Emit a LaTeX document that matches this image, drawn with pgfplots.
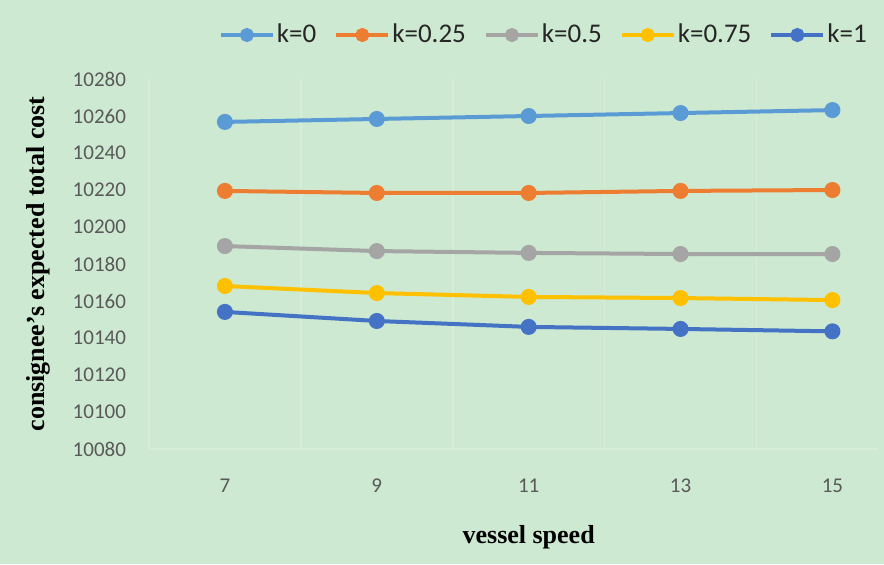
\documentclass[border=0pt]{standalone}
\usepackage{fontspec}
\setmainfont{Liberation Serif}
\newfontfamily\calibri{Carlito}
\usepackage{pgfplots}
\pgfplotsset{compat=1.18}
\definecolor{bg}{RGB}{205,233,209}
\definecolor{gridc}{RGB}{214,237,217}
\definecolor{tickgray}{RGB}{89,89,89}
\definecolor{c0}{HTML}{5B9BD5}
\definecolor{c1}{HTML}{ED7D31}
\definecolor{c2}{HTML}{A5A5A5}
\definecolor{c3}{HTML}{FFC000}
\definecolor{c4}{HTML}{4472C4}
\begin{document}
\begin{tikzpicture}
\fill[bg] (0,0) rectangle (442pt,282pt);
\begin{axis}[
  scale only axis,
  width=364.5pt, height=185pt,
  at={(74.5pt,57.5pt)}, anchor=south west,
  xmin=-0.5, xmax=4.3,
  ymin=10080, ymax=10280,
  ytick={10080,10100,...,10280},
  scaled y ticks=false,
  yticklabel={\pgfmathprintnumber[fixed,precision=0,1000 sep={}]{\tick}},
  xtick={0,1,2,3,4},
  xticklabels={7,9,11,13,15},
  minor xtick={-0.5,0.5,1.5,2.5,3.5},
  xminorgrids,
  minor grid style={draw=gridc, line width=0.8pt},
  major tick length=0pt, minor tick length=0pt,
  axis x line*=bottom, axis y line*=left,
  x axis line style={draw=gridc, line width=0.8pt, -},
  y axis line style={draw=none},
  /pgf/number format/assume math mode=true,
  ticklabel style={font=\calibri\fontsize{10.5}{12}\selectfont, text=tickgray},
  yticklabel style={xshift=-8pt},
  xticklabel style={yshift=-11.5pt},
  xlabel={vessel speed},
  ylabel={consignee's expected total cost},
  label style={font=\bfseries\fontsize{13}{15}\selectfont},
  xlabel style={at={(axis cs:2,10080)}, anchor=center, yshift=-44pt},
  ylabel style={at={(rel axis cs:0,0.5)}, anchor=center, yshift=55.5pt},
  legend style={at={(axis cs:2.1,10280)}, anchor=center, yshift=22pt,
    draw=none, fill=none, font=\calibri\fontsize{13.5}{15}\selectfont,
    text=black!85,
    nodes={inner xsep=1pt},
    /tikz/every even column/.append style={column sep=8pt}},
  legend columns=5,
  legend image code/.code={
    \draw[#1, line width=2pt] (0pt,0pt) -- (26pt,0pt);
    \fill[#1] (13pt,0pt) circle (2.5pt);
  },
  every axis plot/.append style={line width=2pt, mark=*, mark size=3pt},
  clip=false,
]
\addplot[color=c0] coordinates {(0,10256.8) (1,10258.4) (2,10260) (3,10261.6) (4,10263.2)};
\addlegendentry{k=0}
\addplot[color=c1] coordinates {(0,10219.5) (1,10218.4) (2,10218.4) (3,10219.5) (4,10220)};
\addlegendentry{k=0.25}
\addplot[color=c2] coordinates {(0,10189.7) (1,10187) (2,10186) (3,10185.4) (4,10185.4)};
\addlegendentry{k=0.5}
\addplot[color=c3] coordinates {(0,10168.1) (1,10164.3) (2,10162.2) (3,10161.6) (4,10160.5)};
\addlegendentry{k=0.75}
\addplot[color=c4] coordinates {(0,10154.1) (1,10149.2) (2,10146) (3,10144.9) (4,10143.6)};
\addlegendentry{k=1}
\end{axis}
\end{tikzpicture}
\end{document}
